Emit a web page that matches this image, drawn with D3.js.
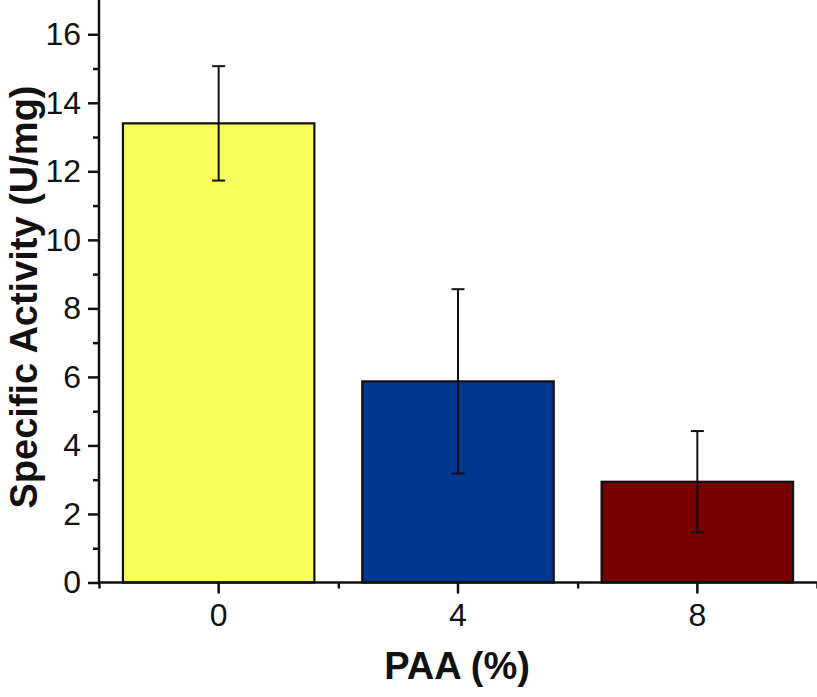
<!DOCTYPE html>
<html><head><meta charset="utf-8">
<script src="https://cdn.jsdelivr.net/npm/d3@7"></script>
<style>body{margin:0;background:#fff}svg{display:block}</style>
</head><body>
<svg id="chart" width="817" height="697"></svg>
<script>
const categories = ["0", "4", "8"];
const values = [13.4, 5.87, 2.94];
const errors = [1.67, 2.69, 1.48];
const colors = ["#F7FD5B", "#003791", "#780000"];
const yTicks = [0, 2, 4, 6, 8, 10, 12, 14, 16];
const yLabel = "Specific Activity (U/mg)";
const xLabel = "PAA (%)";

(function () {
const svg = d3.select("#chart");
const mLeft = 99, mRight = 817, mTop = 0, mBottom = 582.5;
const x = d3.scaleBand().domain(categories).range([mLeft, mRight]).paddingInner(0.2).paddingOuter(0.1);
const y = d3.scaleLinear().domain([0, 17]).range([mBottom, mTop]);
const xi = d3.scaleLinear().domain([-0.5, 2.5]).range([mLeft, mRight]);
const font = "'Liberation Sans', Arial, sans-serif";

// bars
svg.selectAll("rect.bar").data(values).join("rect")
  .attr("class", "bar")
  .attr("x", (d, i) => x(categories[i]))
  .attr("y", d => y(d))
  .attr("width", x.bandwidth())
  .attr("height", d => y(0) - y(d))
  .attr("fill", (d, i) => colors[i])
  .attr("stroke", "#111").attr("stroke-width", 2.2);

// error bars
const eb = svg.append("g").attr("stroke", "#111").attr("stroke-width", 2);
values.forEach((v, i) => {
  const cx = x(categories[i]) + x.bandwidth() / 2;
  eb.append("line").attr("x1", cx).attr("x2", cx).attr("y1", y(v + errors[i])).attr("y2", y(v - errors[i]));
  [v + errors[i], v - errors[i]].forEach(e => {
    eb.append("line").attr("x1", cx - 6.5).attr("x2", cx + 6.5).attr("y1", y(e)).attr("y2", y(e));
  });
});

// y axis
const yAxis = svg.append("g").attr("transform", `translate(${mLeft},0)`)
  .call(d3.axisLeft(y).tickValues(yTicks).tickSize(11).tickPadding(7).tickFormat(d3.format("d")));
svg.append("g").attr("transform", `translate(${mLeft},0)`)
  .call(d3.axisLeft(y).tickValues(d3.range(1, 17, 2)).tickSize(6).tickFormat(""))
  .call(g => g.select(".domain").remove());
yAxis.select(".domain").attr("d", `M0,${y(0)}V${y(17)}`);

// x axis
const xAxis = svg.append("g").attr("transform", `translate(0,${mBottom})`)
  .call(d3.axisBottom(x).tickSize(11).tickPadding(10));
svg.append("g").attr("transform", `translate(0,${mBottom})`)
  .call(d3.axisBottom(xi).tickValues([-0.5, 0.5, 1.5, 2.5]).tickSize(6).tickFormat(""))
  .call(g => g.select(".domain").remove());
xAxis.select(".domain").attr("d", `M${mLeft},0H${mRight}`);

svg.selectAll(".domain, .tick line").attr("stroke", "#111").attr("stroke-width", 2.5);
svg.selectAll(".tick text").attr("font-family", font).attr("font-size", 32).attr("fill", "#111");

// titles
svg.append("text").attr("x", 457).attr("y", 679).attr("text-anchor", "middle")
  .attr("font-family", font).attr("font-weight", "bold").attr("font-size", 38).attr("fill", "#111")
  .text(xLabel);
svg.append("text").attr("transform", "translate(37,297) rotate(-90)").attr("text-anchor", "middle")
  .attr("font-family", font).attr("font-weight", "bold").attr("font-size", 38).attr("fill", "#111")
  .text(yLabel);
})();
</script>
</body></html>
